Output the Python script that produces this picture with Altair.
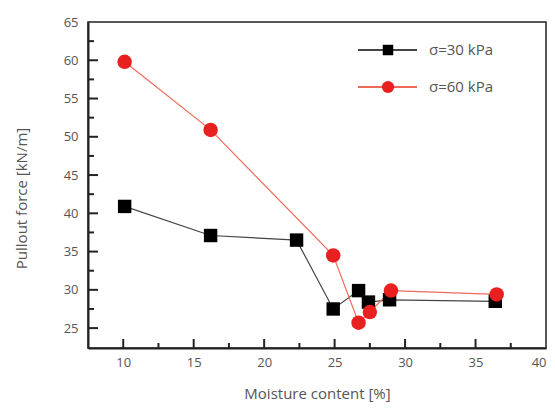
import altair as alt
import pandas as pd

series_labels = ["σ=30 kPa", "σ=60 kPa"]
x30 = [10.1, 16.2, 22.3, 24.9, 26.7, 27.4, 28.9, 36.4]
y30 = [40.9, 37.1, 36.5, 27.5, 29.9, 28.4, 28.7, 28.5]
x60 = [10.1, 16.2, 24.9, 26.7, 27.5, 29.0, 36.5]
y60 = [59.8, 50.9, 34.5, 25.7, 27.1, 29.9, 29.4]

x_major = [10, 15, 20, 25, 30, 35]
x_minor = [12.5, 17.5, 22.5, 27.5, 32.5, 37.5]
y_major = [25, 30, 35, 40, 45, 50, 55, 60]
y_minor = [27.5, 32.5, 37.5, 42.5, 47.5, 52.5, 57.5, 62.5]
x_labels = [10, 15, 20, 25, 30, 35, 40]
y_labels = [25, 30, 35, 40, 45, 50, 55, 60, 65]

W, H = 458, 326
FONT = "Open Sans"
GRAY = "#555555"

df30 = pd.DataFrame({"x": x30, "y": y30})
df60 = pd.DataFrame({"x": x60, "y": y60})

xs = alt.Scale(domain=[7.5, 40], nice=False, zero=False)
ys = alt.Scale(domain=[22.4, 65], nice=False, zero=False)

xaxis = alt.Axis(values=x_labels, title="Moisture content [%]", grid=False,
                 ticks=False, domainColor="#222", domainWidth=2, labelPadding=8,
                 titlePadding=17, labelFont=FONT, titleFont=FONT, labelFontSize=13,
                 titleFontSize=15, labelColor=GRAY, titleColor=GRAY, titleFontWeight="normal")
yaxis = alt.Axis(values=y_labels, title="Pullout force [kN/m]", grid=False,
                 ticks=False, domainColor="#222", domainWidth=2, labelPadding=10,
                 titlePadding=34, titleY=176, labelFont=FONT, titleFont=FONT, labelFontSize=13,
                 titleFontSize=15, labelColor=GRAY, titleColor=GRAY, titleFontWeight="normal")

def X():
    return alt.X("x:Q", scale=xs, axis=xaxis)

def Y():
    return alt.Y("y:Q", scale=ys, axis=yaxis)

line30 = alt.Chart(df30).mark_line(color="#444444", strokeWidth=1.2).encode(
    x=X(), y=Y(), order="x:Q")
line60 = alt.Chart(df60).mark_line(color="#f06a5a", strokeWidth=1.2).encode(
    x=X(), y=Y(), order="x:Q")
pts30 = alt.Chart(df30).mark_point(shape="square", filled=True, color="#000000", size=180, opacity=1).encode(
    x=X(), y=Y())
pts60 = alt.Chart(df60).mark_point(shape="circle", filled=True, color="#e8201f", size=210, opacity=1).encode(
    x=X(), y=Y())

# inward ticks
def xticks(vals, length):
    d = pd.DataFrame({"x": vals})
    return alt.Chart(d).mark_rule(color="#222", strokeWidth=2).encode(
        x=X(), y=alt.value(H), y2=alt.value(H - length))

def yticks(vals, length):
    d = pd.DataFrame({"y": vals})
    return alt.Chart(d).mark_rule(color="#222", strokeWidth=2).encode(
        y=Y(), x=alt.value(0), x2=alt.value(length))

# legend
def legend_item(label, idx):
    yy = 28 + 37 * idx
    d = pd.DataFrame({"label": [label]})
    col_line = "#444444" if idx == 0 else "#f06a5a"
    base = alt.Chart(d)
    ln = base.mark_rule(color=col_line, strokeWidth=2).encode(
        x=alt.value(270), x2=alt.value(329), y=alt.value(yy))
    if idx == 0:
        mk = base.mark_point(shape="square", filled=True, color="#000", size=110, opacity=1).encode(
            x=alt.value(300), y=alt.value(yy))
    else:
        mk = base.mark_point(shape="circle", filled=True, color="#e8201f", size=150, opacity=1).encode(
            x=alt.value(300), y=alt.value(yy))
    tx = base.mark_text(align="left", baseline="middle", font=FONT, fontSize=15, color=GRAY).encode(
        x=alt.value(341), y=alt.value(yy), text="label:N")
    return [ln, mk, tx]

layers = [line30, line60, pts30, pts60,
          xticks(x_major, 9), xticks(x_minor, 5),
          yticks(y_major, 10), yticks(y_minor, 6)]
for i, lab in enumerate(series_labels):
    layers += legend_item(lab, i)

chart = alt.layer(*layers).properties(
    width=W, height=H,
    autosize=alt.AutoSizeParams(type="none"),
    padding={"left": 80, "top": 14, "right": 1, "bottom": 61},
).configure_view(stroke="#222", strokeWidth=1.5)

chart.save("out.html", embed_options={"renderer": "svg", "actions": False})
